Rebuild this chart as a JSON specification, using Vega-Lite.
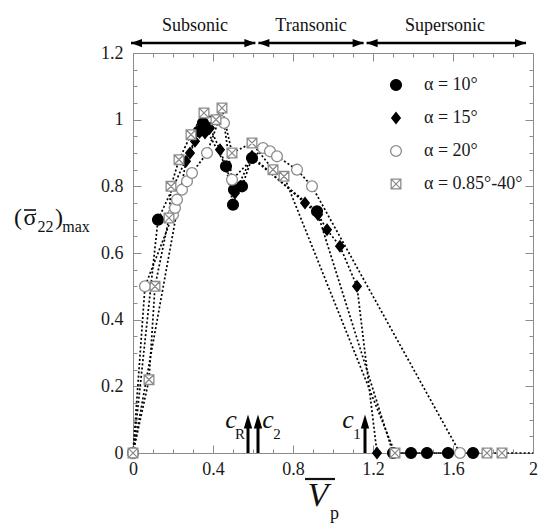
{
  "$schema": "https://vega.github.io/schema/vega-lite/v6.json",
  "width": 400,
  "height": 400,
  "autosize": {"type": "none"},
  "padding": {"left": 133, "top": 53, "right": 7, "bottom": 70},
  "background": "white",
  "config": {
    "view": {"stroke": null},
    "font": "Liberation Serif",
    "text": {"font": "Liberation Serif", "color": "#111111"},
    "axis": {"ticks": true, "tickOpacity": 1, "tickColor": "#8c8c8c", "tickWidth": 1}
  },
  "datasets": {
    "main": [
      {"s": "α = 10°", "i": 1, "v": 0, "y": 0},
      {"s": "α = 10°", "i": 2, "v": 0.125, "y": 0.70},
      {"s": "α = 10°", "i": 3, "v": 0.33, "y": 0.965},
      {"s": "α = 10°", "i": 4, "v": 0.35, "y": 0.99},
      {"s": "α = 10°", "i": 5, "v": 0.465, "y": 0.86},
      {"s": "α = 10°", "i": 6, "v": 0.50, "y": 0.745},
      {"s": "α = 10°", "i": 7, "v": 0.505, "y": 0.79},
      {"s": "α = 10°", "i": 8, "v": 0.545, "y": 0.80},
      {"s": "α = 10°", "i": 9, "v": 0.595, "y": 0.885},
      {"s": "α = 10°", "i": 10, "v": 0.92, "y": 0.725},
      {"s": "α = 10°", "i": 11, "v": 1.30, "y": 0},
      {"s": "α = 10°", "i": 12, "v": 1.39, "y": 0},
      {"s": "α = 10°", "i": 13, "v": 1.47, "y": 0},
      {"s": "α = 10°", "i": 14, "v": 1.575, "y": 0},
      {"s": "α = 10°", "i": 15, "v": 1.70, "y": 0},
      {"s": "α = 15°", "i": 16, "v": 0, "y": 0},
      {"s": "α = 15°", "i": 17, "v": 0.265, "y": 0.875},
      {"s": "α = 15°", "i": 18, "v": 0.285, "y": 0.90},
      {"s": "α = 15°", "i": 19, "v": 0.31, "y": 0.935},
      {"s": "α = 15°", "i": 20, "v": 0.36, "y": 0.96},
      {"s": "α = 15°", "i": 21, "v": 0.385, "y": 0.975},
      {"s": "α = 15°", "i": 22, "v": 0.435, "y": 0.91},
      {"s": "α = 15°", "i": 23, "v": 0.51, "y": 0.78},
      {"s": "α = 15°", "i": 24, "v": 0.595, "y": 0.89},
      {"s": "α = 15°", "i": 25, "v": 0.86, "y": 0.75},
      {"s": "α = 15°", "i": 26, "v": 0.925, "y": 0.715},
      {"s": "α = 15°", "i": 27, "v": 0.97, "y": 0.67},
      {"s": "α = 15°", "i": 28, "v": 1.035, "y": 0.62},
      {"s": "α = 15°", "i": 29, "v": 1.12, "y": 0.50},
      {"s": "α = 15°", "i": 30, "v": 1.22, "y": 0},
      {"s": "α = 20°", "i": 31, "v": 0, "y": 0},
      {"s": "α = 20°", "i": 32, "v": 0.06, "y": 0.50},
      {"s": "α = 20°", "i": 33, "v": 0.20, "y": 0.715},
      {"s": "α = 20°", "i": 34, "v": 0.21, "y": 0.735},
      {"s": "α = 20°", "i": 35, "v": 0.22, "y": 0.76},
      {"s": "α = 20°", "i": 36, "v": 0.245, "y": 0.79},
      {"s": "α = 20°", "i": 37, "v": 0.27, "y": 0.815},
      {"s": "α = 20°", "i": 38, "v": 0.295, "y": 0.84},
      {"s": "α = 20°", "i": 39, "v": 0.37, "y": 0.90},
      {"s": "α = 20°", "i": 40, "v": 0.43, "y": 1.0},
      {"s": "α = 20°", "i": 41, "v": 0.455, "y": 0.99},
      {"s": "α = 20°", "i": 42, "v": 0.495, "y": 0.82},
      {"s": "α = 20°", "i": 43, "v": 0.65, "y": 0.915},
      {"s": "α = 20°", "i": 44, "v": 0.685, "y": 0.905},
      {"s": "α = 20°", "i": 45, "v": 0.72, "y": 0.89},
      {"s": "α = 20°", "i": 46, "v": 0.82, "y": 0.85},
      {"s": "α = 20°", "i": 47, "v": 0.895, "y": 0.80},
      {"s": "α = 20°", "i": 48, "v": 1.635, "y": 0},
      {"s": "α = 0.85°-40°", "i": 49, "v": 0, "y": 0},
      {"s": "α = 0.85°-40°", "i": 50, "v": 0.08, "y": 0.22},
      {"s": "α = 0.85°-40°", "i": 51, "v": 0.11, "y": 0.50},
      {"s": "α = 0.85°-40°", "i": 52, "v": 0.18, "y": 0.705},
      {"s": "α = 0.85°-40°", "i": 53, "v": 0.19, "y": 0.80},
      {"s": "α = 0.85°-40°", "i": 54, "v": 0.23, "y": 0.88},
      {"s": "α = 0.85°-40°", "i": 55, "v": 0.29, "y": 0.955},
      {"s": "α = 0.85°-40°", "i": 56, "v": 0.355, "y": 1.02},
      {"s": "α = 0.85°-40°", "i": 57, "v": 0.415, "y": 1.0},
      {"s": "α = 0.85°-40°", "i": 58, "v": 0.445, "y": 1.035},
      {"s": "α = 0.85°-40°", "i": 59, "v": 0.495, "y": 0.90},
      {"s": "α = 0.85°-40°", "i": 60, "v": 0.595, "y": 0.93},
      {"s": "α = 0.85°-40°", "i": 61, "v": 0.70, "y": 0.85},
      {"s": "α = 0.85°-40°", "i": 62, "v": 0.755, "y": 0.83},
      {"s": "α = 0.85°-40°", "i": 63, "v": 1.31, "y": 0},
      {"s": "α = 0.85°-40°", "i": 64, "v": 1.77, "y": 0},
      {"s": "α = 0.85°-40°", "i": 65, "v": 1.845, "y": 0},
      {"s": "α = 0.85°-40°", "i": 66, "v": 2.0, "y": 0}
    ],
    "regions": [
      {"label": "Subsonic", "a": -0.01, "b": 0.612, "m": 0.31},
      {"label": "Transonic", "a": 0.627, "b": 1.153, "m": 0.89},
      {"label": "Supersonic", "a": 1.168, "b": 1.965, "m": 1.56}
    ],
    "speeds": [
      {"sub": "R", "v": 0.575, "side": "L"},
      {"sub": "2", "v": 0.625, "side": "R"},
      {"sub": "1", "v": 1.16, "side": "L"}
    ]
  },
  "layer": [
    {
      "data": {"name": "main"},
      "mark": {"type": "line", "color": "black", "strokeWidth": 1.7, "strokeDash": [2, 2.2], "strokeCap": "butt"},
      "encoding": {
        "x": {"field": "v", "type": "quantitative", "scale": {"domain": [0, 2], "nice": false, "zero": false},
          "axis": {"orient": "top", "values": [0, 0.4, 0.8, 1.2, 1.6, 2], "ticks": true, "tickSize": -8, "tickWidth": 1, "tickOpacity": 1, "labels": false, "title": null, "grid": false, "domainColor": "#8c8c8c", "tickColor": "#8c8c8c"}},
        "y": {"field": "y", "type": "quantitative", "scale": {"domain": [0, 1.2], "nice": false},
          "axis": {"orient": "right", "values": [0, 0.2, 0.4, 0.6, 0.8, 1, 1.2], "ticks": true, "tickSize": -8, "tickWidth": 1, "tickOpacity": 1, "labels": false, "title": null, "grid": false, "domainColor": "#8c8c8c", "tickColor": "#8c8c8c"}},
        "detail": {"field": "s"},
        "order": {"field": "i"}
      }
    },
    {
      "data": {"name": "main"},
      "transform": [{"filter": "datum.v < 1.99"}],
      "mark": {"type": "point", "size": 130, "opacity": 1, "strokeWidth": 1.3},
      "encoding": {
        "x": {"field": "v", "type": "quantitative", "scale": {"domain": [0, 2], "nice": false, "zero": false},
          "axis": {"orient": "bottom", "values": [0, 0.4, 0.8, 1.2, 1.6, 2], "format": "~g", "ticks": true, "tickSize": -8, "tickWidth": 1, "tickOpacity": 1, "tickColor": "#8c8c8c",
            "labelFlush": false, "labelOverlap": false, "labelPadding": 15, "title": null, "grid": false, "domainColor": "#8c8c8c",
            "labelFont": "Liberation Serif", "labelFontSize": 18, "labelColor": "#1a1a1a"}},
        "y": {"field": "y", "type": "quantitative", "scale": {"domain": [0, 1.2], "nice": false},
          "axis": {"orient": "left", "values": [0, 0.2, 0.4, 0.6, 0.8, 1, 1.2], "format": "~g", "ticks": true, "tickSize": -8, "tickWidth": 1, "tickOpacity": 1, "tickColor": "#8c8c8c",
            "labelFlush": false, "labelOverlap": false, "labelPadding": 18, "title": null, "grid": false, "domainColor": "#8c8c8c",
            "labelFont": "Liberation Serif", "labelFontSize": 18, "labelColor": "#1a1a1a"}},
        "shape": {"field": "s", "type": "nominal",
          "scale": {"domain": ["α = 10°", "α = 15°", "α = 20°", "α = 0.85°-40°"],
            "range": ["M-0.95,0A0.95,0.95,0,1,1,0.95,0A0.95,0.95,0,1,1,-0.95,0Z", "M0,-0.95L0.75,0L0,0.95L-0.75,0Z", "M-0.95,0A0.95,0.95,0,1,1,0.95,0A0.95,0.95,0,1,1,-0.95,0Z", "M-0.85,-0.85H0.85V0.85H-0.85ZM-0.85,-0.85L0.85,0.85M0.85,-0.85L-0.85,0.85"]},
          "legend": {"orient": "none", "legendX": 254, "legendY": 23, "title": null, "symbolSize": 130, "symbolStrokeWidth": 1.3,
            "labelFont": "Liberation Serif", "labelFontSize": 18, "labelColor": "#1a1a1a", "labelOffset": 19, "rowPadding": 15, "padding": 0, "labelLimit": 0}},
        "fill": {"field": "s", "type": "nominal",
          "scale": {"domain": ["α = 10°", "α = 15°", "α = 20°", "α = 0.85°-40°"], "range": ["#000000", "#000000", "#ffffff", "#ffffff"]},
          "legend": {"orient": "none", "legendX": 254, "legendY": 23, "title": null, "symbolSize": 130, "symbolStrokeWidth": 1.3,
            "labelFont": "Liberation Serif", "labelFontSize": 18, "labelColor": "#1a1a1a", "labelOffset": 19, "rowPadding": 15, "padding": 0, "labelLimit": 0}},
        "stroke": {"field": "s", "type": "nominal",
          "scale": {"domain": ["α = 10°", "α = 15°", "α = 20°", "α = 0.85°-40°"], "range": ["#000000", "#000000", "#8c8c8c", "#8c8c8c"]},
          "legend": {"orient": "none", "legendX": 254, "legendY": 23, "title": null, "symbolSize": 130, "symbolStrokeWidth": 1.3,
            "labelFont": "Liberation Serif", "labelFontSize": 18, "labelColor": "#1a1a1a", "labelOffset": 19, "rowPadding": 15, "padding": 0, "labelLimit": 0}},
        "order": {"field": "i"}
      }
    },
    {
      "data": {"name": "regions"},
      "mark": {"type": "rule", "color": "black", "strokeWidth": 2.5},
      "encoding": {
        "x": {"field": "a", "type": "quantitative", "scale": {"domain": [0, 2], "nice": false, "zero": false},
          "axis": {"orient": "top", "offset": -400, "values": [0.1, 0.2, 0.3, 0.5, 0.6, 0.7, 0.9, 1, 1.1, 1.3, 1.4, 1.5, 1.7, 1.8, 1.9], "ticks": true, "tickSize": 4, "tickWidth": 1, "tickOpacity": 1, "domain": false, "labels": false, "title": null, "grid": false, "tickColor": "#8c8c8c"}},
        "x2": {"field": "b"},
        "y": {"datum": 1.23, "type": "quantitative", "scale": {"domain": [0, 1.2], "nice": false},
          "axis": {"orient": "right", "offset": -400, "values": [0.05, 0.1, 0.15, 0.25, 0.3, 0.35, 0.45, 0.5, 0.55, 0.65, 0.7, 0.75, 0.85, 0.9, 0.95, 1.05, 1.1, 1.15], "ticks": true, "tickSize": 4, "tickWidth": 1, "tickOpacity": 1, "domain": false, "labels": false, "title": null, "grid": false, "tickColor": "#8c8c8c"}}
      }
    },
    {
      "data": {"name": "regions"},
      "mark": {"type": "point", "shape": "M-1,0L1,-0.75L1,0.75Z", "size": 121, "filled": true, "color": "black", "opacity": 1, "xOffset": 5.5},
      "encoding": {
        "x": {"field": "a", "type": "quantitative", "scale": {"domain": [0, 2], "nice": false, "zero": false},
          "axis": {"orient": "bottom", "offset": -400, "values": [0.1, 0.2, 0.3, 0.5, 0.6, 0.7, 0.9, 1, 1.1, 1.3, 1.4, 1.5, 1.7, 1.8, 1.9], "ticks": true, "tickSize": 4, "tickWidth": 1, "tickOpacity": 1, "domain": false, "labels": false, "title": null, "grid": false, "tickColor": "#8c8c8c"}},
        "y": {"datum": 1.23, "type": "quantitative", "scale": {"domain": [0, 1.2], "nice": false},
          "axis": {"orient": "left", "offset": -400, "values": [0.05, 0.1, 0.15, 0.25, 0.3, 0.35, 0.45, 0.5, 0.55, 0.65, 0.7, 0.75, 0.85, 0.9, 0.95, 1.05, 1.1, 1.15], "ticks": true, "tickSize": 4, "tickWidth": 1, "tickOpacity": 1, "domain": false, "labels": false, "title": null, "grid": false, "tickColor": "#8c8c8c"}}
      }
    },
    {
      "data": {"name": "regions"},
      "mark": {"type": "point", "shape": "M1,0L-1,-0.75L-1,0.75Z", "size": 121, "filled": true, "color": "black", "opacity": 1, "xOffset": -5.5},
      "encoding": {
        "x": {"field": "b", "type": "quantitative", "scale": {"domain": [0, 2], "nice": false, "zero": false}, "axis": null},
        "y": {"datum": 1.23, "type": "quantitative", "scale": {"domain": [0, 1.2], "nice": false}, "axis": null}
      }
    },
    {
      "data": {"name": "regions"},
      "mark": {"type": "text", "fontSize": 18, "font": "Liberation Serif", "baseline": "alphabetic", "align": "center", "color": "#111111"},
      "encoding": {
        "x": {"field": "m", "type": "quantitative", "scale": {"domain": [0, 2], "nice": false, "zero": false}, "axis": null},
        "y": {"datum": 1.266, "type": "quantitative", "scale": {"domain": [0, 1.2], "nice": false}, "axis": null},
        "text": {"field": "label"}
      }
    },
    {
      "data": {"name": "speeds"},
      "mark": {"type": "rule", "color": "black", "strokeWidth": 3},
      "encoding": {
        "x": {"field": "v", "type": "quantitative", "scale": {"domain": [0, 2], "nice": false, "zero": false}, "axis": null},
        "y": {"datum": 0, "type": "quantitative", "scale": {"domain": [0, 1.2], "nice": false}, "axis": null},
        "y2": {"datum": 0.08}
      }
    },
    {
      "data": {"name": "speeds"},
      "mark": {"type": "point", "shape": "M0,-1L0.6,1L-0.6,1Z", "size": 196, "filled": true, "color": "black", "opacity": 1},
      "encoding": {
        "x": {"field": "v", "type": "quantitative", "scale": {"domain": [0, 2], "nice": false, "zero": false}, "axis": null},
        "y": {"datum": 0.0945, "type": "quantitative", "scale": {"domain": [0, 1.2], "nice": false}, "axis": null}
      }
    },
    {
      "data": {"name": "speeds"},
      "transform": [{"filter": "datum.side == 'L'"}],
      "mark": {"type": "text", "text": "c", "fontSize": 26, "fontStyle": "italic", "font": "Liberation Serif", "baseline": "alphabetic", "align": "center", "dx": -17, "color": "#111111"},
      "encoding": {
        "x": {"field": "v", "type": "quantitative", "scale": {"domain": [0, 2], "nice": false, "zero": false}, "axis": null},
        "y": {"datum": 0.075, "type": "quantitative", "scale": {"domain": [0, 1.2], "nice": false}, "axis": null}
      }
    },
    {
      "data": {"name": "speeds"},
      "transform": [{"filter": "datum.side == 'L'"}],
      "mark": {"type": "text", "fontSize": 15, "font": "Liberation Serif", "baseline": "alphabetic", "align": "center", "dx": -8, "color": "#111111"},
      "encoding": {
        "x": {"field": "v", "type": "quantitative", "scale": {"domain": [0, 2], "nice": false, "zero": false}, "axis": null},
        "y": {"datum": 0.043, "type": "quantitative", "scale": {"domain": [0, 1.2], "nice": false}, "axis": null},
        "text": {"field": "sub"}
      }
    },
    {
      "data": {"name": "speeds"},
      "transform": [{"filter": "datum.side == 'R'"}],
      "mark": {"type": "text", "text": "c", "fontSize": 26, "fontStyle": "italic", "font": "Liberation Serif", "baseline": "alphabetic", "align": "center", "dx": 10, "color": "#111111"},
      "encoding": {
        "x": {"field": "v", "type": "quantitative", "scale": {"domain": [0, 2], "nice": false, "zero": false}, "axis": null},
        "y": {"datum": 0.075, "type": "quantitative", "scale": {"domain": [0, 1.2], "nice": false}, "axis": null}
      }
    },
    {
      "data": {"name": "speeds"},
      "transform": [{"filter": "datum.side == 'R'"}],
      "mark": {"type": "text", "fontSize": 15, "font": "Liberation Serif", "baseline": "alphabetic", "align": "center", "dx": 19, "color": "#111111"},
      "encoding": {
        "x": {"field": "v", "type": "quantitative", "scale": {"domain": [0, 2], "nice": false, "zero": false}, "axis": null},
        "y": {"datum": 0.043, "type": "quantitative", "scale": {"domain": [0, 1.2], "nice": false}, "axis": null},
        "text": {"field": "sub"}
      }
    },
    {
      "data": {"values": [{}]},
      "mark": {"type": "text", "text": "(", "fontSize": 24, "font": "Liberation Serif", "baseline": "alphabetic", "align": "center", "color": "#111111"},
      "encoding": {
        "x": {"datum": -0.575, "type": "quantitative", "scale": {"domain": [0, 2], "nice": false, "zero": false}, "axis": null},
        "y": {"datum": 0.684, "type": "quantitative", "scale": {"domain": [0, 1.2], "nice": false}, "axis": null}
      }
    },
    {
      "data": {"values": [{}]},
      "mark": {"type": "text", "text": "σ", "fontSize": 24, "font": "Liberation Serif", "baseline": "alphabetic", "align": "center", "color": "#111111"},
      "encoding": {
        "x": {"datum": -0.515, "type": "quantitative", "scale": {"domain": [0, 2], "nice": false, "zero": false}, "axis": null},
        "y": {"datum": 0.684, "type": "quantitative", "scale": {"domain": [0, 1.2], "nice": false}, "axis": null}
      }
    },
    {
      "data": {"values": [{}]},
      "mark": {"type": "rule", "color": "#111111", "strokeWidth": 1.6},
      "encoding": {
        "x": {"datum": -0.545, "type": "quantitative", "scale": {"domain": [0, 2], "nice": false, "zero": false}, "axis": null},
        "x2": {"datum": -0.485},
        "y": {"datum": 0.729, "type": "quantitative", "scale": {"domain": [0, 1.2], "nice": false}, "axis": null}
      }
    },
    {
      "data": {"values": [{}]},
      "mark": {"type": "text", "text": "22", "fontSize": 16, "font": "Liberation Serif", "baseline": "alphabetic", "align": "center", "color": "#111111"},
      "encoding": {
        "x": {"datum": -0.437, "type": "quantitative", "scale": {"domain": [0, 2], "nice": false, "zero": false}, "axis": null},
        "y": {"datum": 0.663, "type": "quantitative", "scale": {"domain": [0, 1.2], "nice": false}, "axis": null}
      }
    },
    {
      "data": {"values": [{}]},
      "mark": {"type": "text", "text": ")", "fontSize": 24, "font": "Liberation Serif", "baseline": "alphabetic", "align": "center", "color": "#111111"},
      "encoding": {
        "x": {"datum": -0.37, "type": "quantitative", "scale": {"domain": [0, 2], "nice": false, "zero": false}, "axis": null},
        "y": {"datum": 0.684, "type": "quantitative", "scale": {"domain": [0, 1.2], "nice": false}, "axis": null}
      }
    },
    {
      "data": {"values": [{}]},
      "mark": {"type": "text", "text": "max", "fontSize": 16, "font": "Liberation Serif", "baseline": "alphabetic", "align": "center", "color": "#111111"},
      "encoding": {
        "x": {"datum": -0.285, "type": "quantitative", "scale": {"domain": [0, 2], "nice": false, "zero": false}, "axis": null},
        "y": {"datum": 0.663, "type": "quantitative", "scale": {"domain": [0, 1.2], "nice": false}, "axis": null}
      }
    },
    {
      "data": {"values": [{}]},
      "mark": {"type": "text", "text": "V", "fontSize": 34, "fontStyle": "italic", "font": "Liberation Serif", "baseline": "alphabetic", "align": "center", "color": "#111111"},
      "encoding": {
        "x": {"datum": 0.925, "type": "quantitative", "scale": {"domain": [0, 2], "nice": false, "zero": false}, "axis": null},
        "y": {"datum": -0.159, "type": "quantitative", "scale": {"domain": [0, 1.2], "nice": false}, "axis": null}
      }
    },
    {
      "data": {"values": [{}]},
      "mark": {"type": "rule", "color": "#111111", "strokeWidth": 2.2},
      "encoding": {
        "x": {"datum": 0.86, "type": "quantitative", "scale": {"domain": [0, 2], "nice": false, "zero": false}, "axis": null},
        "x2": {"datum": 1.01},
        "y": {"datum": -0.078, "type": "quantitative", "scale": {"domain": [0, 1.2], "nice": false}, "axis": null}
      }
    },
    {
      "data": {"values": [{}]},
      "mark": {"type": "text", "text": "p", "fontSize": 18, "font": "Liberation Serif", "baseline": "alphabetic", "align": "center", "color": "#111111"},
      "encoding": {
        "x": {"datum": 1.007, "type": "quantitative", "scale": {"domain": [0, 2], "nice": false, "zero": false}, "axis": null},
        "y": {"datum": -0.198, "type": "quantitative", "scale": {"domain": [0, 1.2], "nice": false}, "axis": null}
      }
    }
  ]
}
